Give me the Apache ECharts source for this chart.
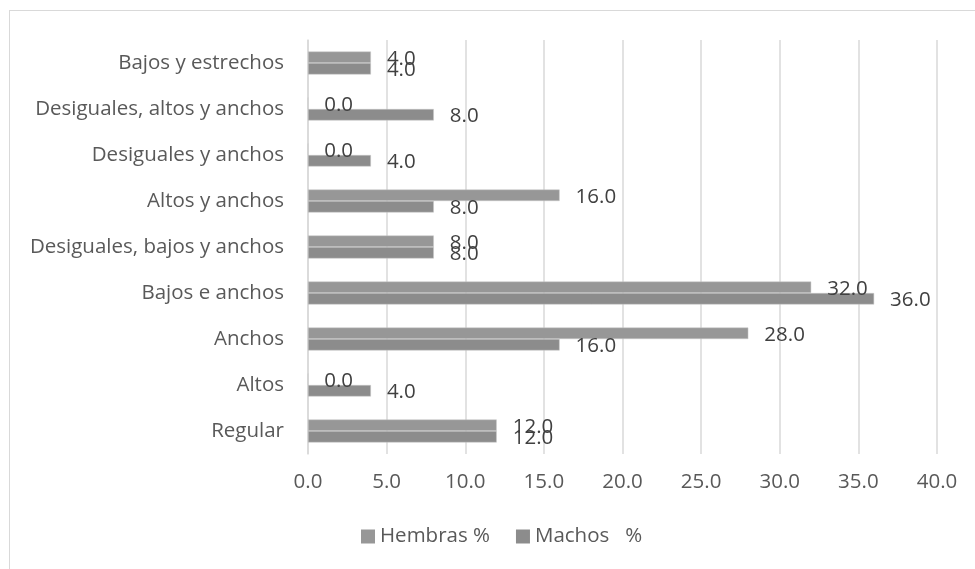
<!DOCTYPE html>
<html><head><meta charset="utf-8">
<script src="https://cdn.jsdelivr.net/npm/echarts@6/dist/echarts.min.js"></script>
<style>html,body{margin:0;padding:0;background:#fff}#c{width:975px;height:569px}
#b{position:absolute;left:9px;top:10px;width:980px;height:580px;border:1px solid #d9d9d9;box-sizing:border-box;pointer-events:none}</style>
</head><body><div id="c"></div><div id="b"></div>
<script>
const categories = ['Regular','Altos','Anchos','Bajos e anchos','Desiguales, bajos y anchos','Altos y anchos','Desiguales y anchos','Desiguales, altos y anchos','Bajos y estrechos'];
const hembras = [12, 0, 28, 32, 8, 16, 0, 0, 4];
const machos = [12, 4, 16, 36, 8, 8, 4, 8, 4];
const seriesNames = ['Hembras %', 'Machos   %'];
const xTicks = {min: 0, max: 40, interval: 5};

const font = 'Open Sans';
const fs = 20.5;
const chart = echarts.init(document.getElementById('c'));
const lbl = {show: true, position: 'right', distance: 16, color: '#404040', fontFamily: font, fontSize: fs,
  offset: [0, 1.5], formatter: p => p.value.toFixed(1)};
chart.setOption({
  animation: false,
  textStyle: {fontFamily: font},
  grid: {left: 308, right: 38, top: 40, bottom: 115},
  legend: {bottom: 17, left: 356, itemWidth: 14, itemHeight: 14, itemGap: 26,
    itemStyle: {borderWidth: 0},
    textStyle: {color: '#595959', fontSize: 20.5, fontFamily: font}, icon: 'rect',
    data: seriesNames},
  xAxis: {type: 'value', min: xTicks.min, max: xTicks.max, interval: xTicks.interval,
    axisLine: {show: false}, axisTick: {show: false},
    axisLabel: {color: '#595959', fontSize: fs, fontFamily: font, margin: 18, formatter: v => v.toFixed(1)},
    splitLine: {lineStyle: {color: '#d9d9d9', width: 1.5}}},
  yAxis: {type: 'category', data: categories,
    axisLine: {lineStyle: {color: '#d9d9d9', width: 1.5}}, axisTick: {show: false},
    axisLabel: {color: '#595959', fontSize: fs, fontFamily: font, margin: 24}},
  series: [
    {name: seriesNames[0], type: 'bar', data: hembras, barWidth: 11.5, barGap: '0%',
     itemStyle: {color: '#979797', borderColor: '#c8c8c8', borderWidth: 0.5}, label: lbl},
    {name: seriesNames[1], type: 'bar', data: machos, barWidth: 11.5, barGap: '0%',
     itemStyle: {color: '#8c8c8c', borderColor: '#c8c8c8', borderWidth: 0.5}, label: lbl}
  ]
});
</script></body></html>
